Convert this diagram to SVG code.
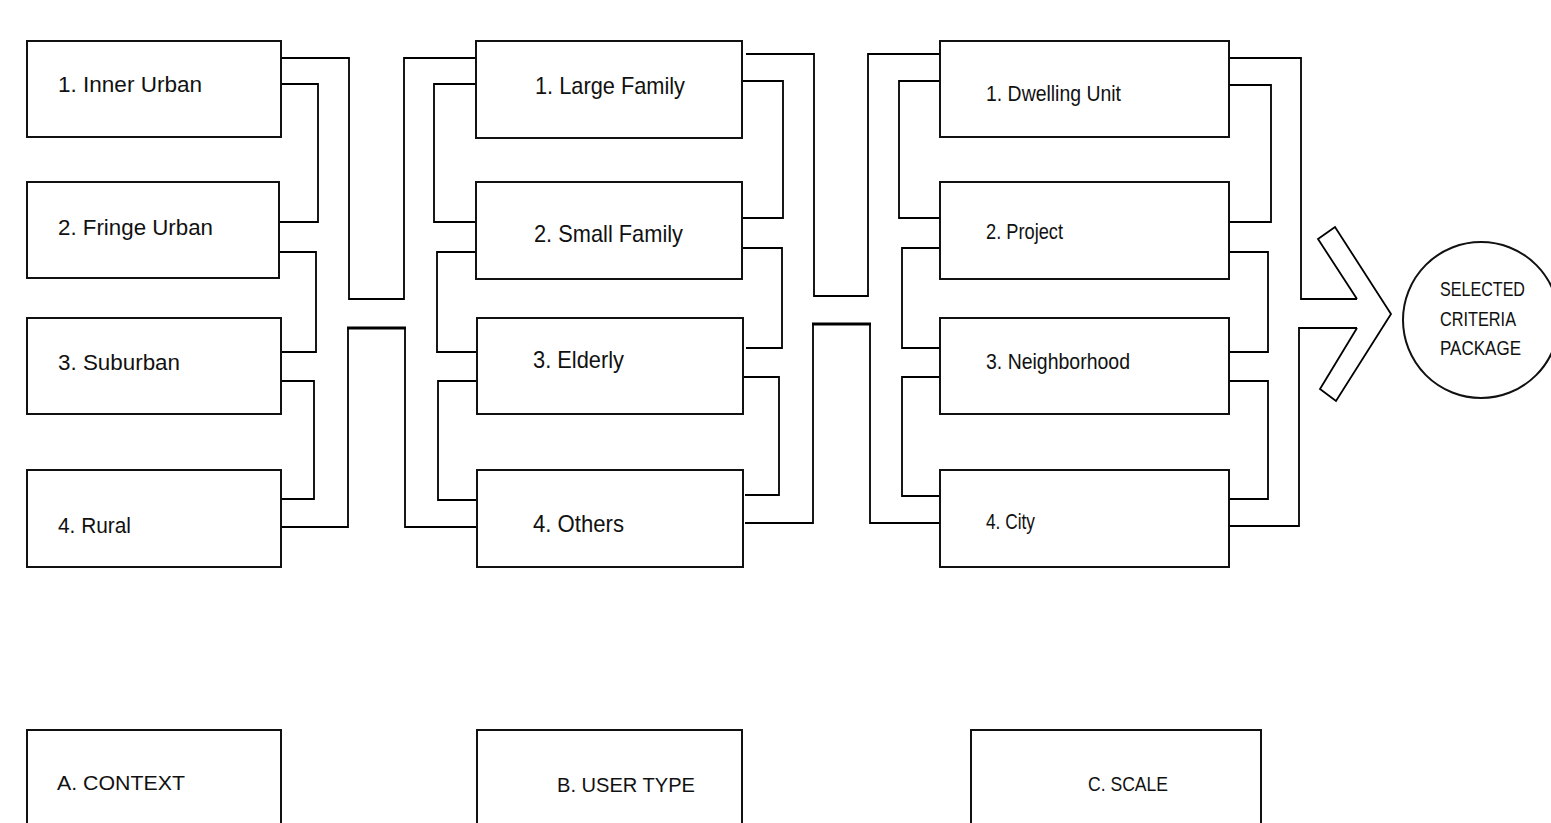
<svg xmlns="http://www.w3.org/2000/svg" width="1551" height="823" viewBox="0 0 1551 823">
<style>
.box{fill:#fff;stroke:#111;stroke-width:2}
.ln{fill:none;stroke:#000;stroke-width:1.8;stroke-linejoin:miter}
.thk{fill:none;stroke:#000;stroke-width:3}
.t{font-family:"Liberation Sans",Arial,sans-serif;fill:#111}
.l{font-size:22px}
.m{font-size:24px}
.r{font-size:22px}
.s{font-size:21px}
.b{font-size:21px}
</style>
<rect width="1551" height="823" fill="#fff"/>
<g id="connectors">
<path class="ln" d="M281,58 H349 V299 H404 V58 H476"/>
<path class="ln" d="M281,84 H318 V222 H278"/>
<path class="ln" d="M279,252 H316 V352 H281"/>
<path class="ln" d="M279,381 H314 V499 H281"/>
<path class="ln" d="M281,527 H348 V328 M405,328 V527 H476"/>
<path class="thk" d="M347,328 H406"/>
<path class="ln" d="M476,84 H434 V222 H476"/>
<path class="ln" d="M476,252 H437 V352 H477"/>
<path class="ln" d="M477,381 H438 V500 H477"/>
<path class="ln" d="M742,81 H783 V218 H742"/>
<path class="ln" d="M742,248 H782 V348 H746"/>
<path class="ln" d="M743,377 H779 V495 H745"/>
<path class="ln" d="M746,54 H814 V296 H868 V54 H940"/>
<path class="ln" d="M745,523 H813 V324 M870,324 V523 H940"/>
<path class="thk" d="M812,324 H871"/>
<path class="ln" d="M940,81 H899 V218 H940"/>
<path class="ln" d="M940,248 H902 V348 H940"/>
<path class="ln" d="M940,377 H902 V496 H940"/>
<path class="ln" d="M1229,85 H1271 V222 H1229"/>
<path class="ln" d="M1229,252 H1268 V352 H1229"/>
<path class="ln" d="M1229,381 H1268 V499 H1229"/>
<path class="ln" d="M1229,58 H1301 V299 H1357"/>
<path class="ln" d="M1229,526 H1299 V328 H1357"/>
</g>
<g id="arrow">
<path class="ln" d="M1357,299 L1318,239 L1335,227 L1391,314 L1336,401 L1320,389 L1357,328"/>
</g>
<g id="output">
<circle cx="1481" cy="320" r="78" fill="#fff" stroke="#111" stroke-width="2"/>
<text class="t s" x="1440" y="296" textLength="85" lengthAdjust="spacingAndGlyphs">SELECTED</text>
<text class="t s" x="1440" y="326" textLength="76" lengthAdjust="spacingAndGlyphs">CRITERIA</text>
<text class="t s" x="1440" y="355" textLength="81" lengthAdjust="spacingAndGlyphs">PACKAGE</text>
</g>
<g id="context-1"><rect class="box" x="27" y="41" width="254" height="96"/><text class="t l" x="58" y="92" textLength="144" lengthAdjust="spacingAndGlyphs">1. Inner Urban</text></g>
<g id="context-2"><rect class="box" x="27" y="182" width="252" height="96"/><text class="t l" x="58" y="235" textLength="155" lengthAdjust="spacingAndGlyphs">2. Fringe Urban</text></g>
<g id="context-3"><rect class="box" x="27" y="318" width="254" height="96"/><text class="t l" x="58" y="370" textLength="122" lengthAdjust="spacingAndGlyphs">3. Suburban</text></g>
<g id="context-4"><rect class="box" x="27" y="470" width="254" height="97"/><text class="t l" x="58" y="533" textLength="73" lengthAdjust="spacingAndGlyphs">4. Rural</text></g>
<g id="user-1"><rect class="box" x="476" y="41" width="266" height="97"/><text class="t m" x="535" y="94" textLength="150" lengthAdjust="spacingAndGlyphs">1. Large Family</text></g>
<g id="user-2"><rect class="box" x="476" y="182" width="266" height="97"/><text class="t m" x="534" y="242" textLength="149" lengthAdjust="spacingAndGlyphs">2. Small Family</text></g>
<g id="user-3"><rect class="box" x="477" y="318" width="266" height="96"/><text class="t m" x="533" y="368" textLength="91" lengthAdjust="spacingAndGlyphs">3. Elderly</text></g>
<g id="user-4"><rect class="box" x="477" y="470" width="266" height="97"/><text class="t m" x="533" y="532" textLength="91" lengthAdjust="spacingAndGlyphs">4. Others</text></g>
<g id="scale-1"><rect class="box" x="940" y="41" width="289" height="96"/><text class="t r" x="986" y="101" textLength="135" lengthAdjust="spacingAndGlyphs">1. Dwelling Unit</text></g>
<g id="scale-2"><rect class="box" x="940" y="182" width="289" height="97"/><text class="t r" x="986" y="239" textLength="77" lengthAdjust="spacingAndGlyphs">2. Project</text></g>
<g id="scale-3"><rect class="box" x="940" y="318" width="289" height="96"/><text class="t r" x="986" y="369" textLength="144" lengthAdjust="spacingAndGlyphs">3. Neighborhood</text></g>
<g id="scale-4"><rect class="box" x="940" y="470" width="289" height="97"/><text class="t r" x="986" y="529" textLength="49" lengthAdjust="spacingAndGlyphs">4. City</text></g>
<g id="label-a"><rect class="box" x="27" y="730" width="254" height="110"/><text class="t b" x="57" y="790" textLength="128" lengthAdjust="spacingAndGlyphs">A.  CONTEXT</text></g>
<g id="label-b"><rect class="box" x="477" y="730" width="265" height="110"/><text class="t b" x="557" y="792" textLength="138" lengthAdjust="spacingAndGlyphs">B.  USER TYPE</text></g>
<g id="label-c"><rect class="box" x="971" y="730" width="290" height="110"/><text class="t b" x="1088" y="791" textLength="80" lengthAdjust="spacingAndGlyphs">C.  SCALE</text></g>
</svg>
